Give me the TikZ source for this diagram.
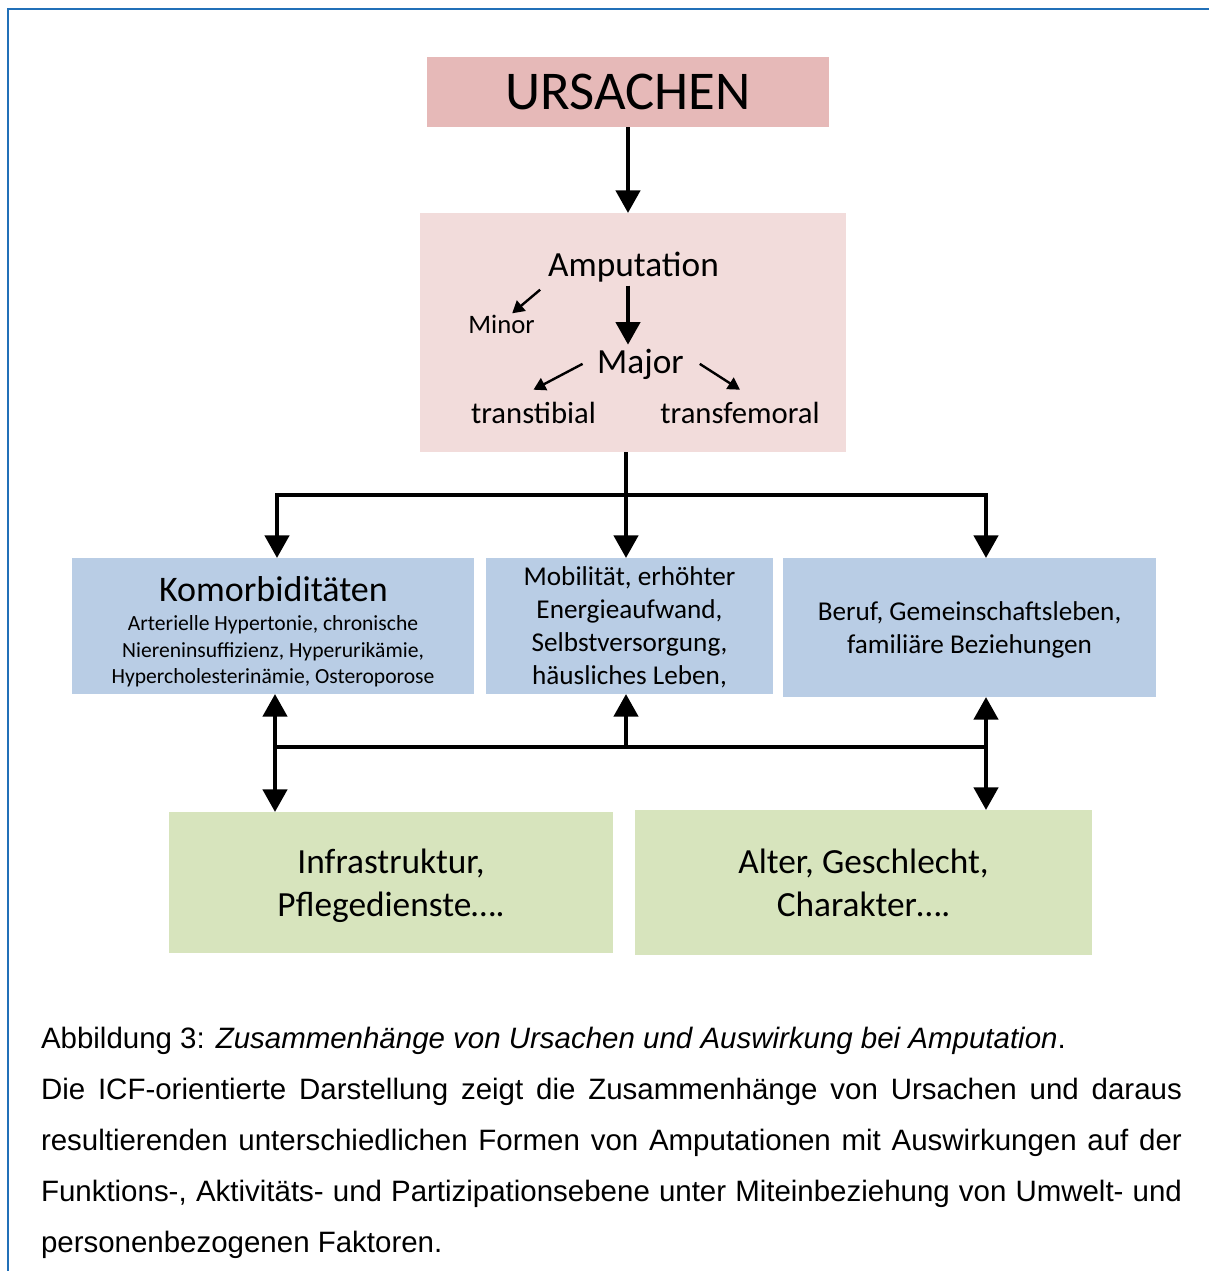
\documentclass[tikz,border=0pt]{standalone}
\usepackage{fontspec}
\setmainfont{Carlito}
\newfontfamily\capfont{Liberation Sans}
\usetikzlibrary{arrows.meta}
\definecolor{causered}{HTML}{E6B9B8}
\definecolor{amppink}{HTML}{F2DCDB}
\definecolor{effectblue}{HTML}{B9CDE5}
\definecolor{contextgreen}{HTML}{D7E4BD}
\definecolor{frameblue}{HTML}{2170B8}
\begin{document}
\begin{tikzpicture}
  [x=0.75pt,y=-0.75pt,every node/.style={inner sep=0pt,outer sep=0pt}]
  \tikzstyle{cause} = [fill=causered,minimum width=301.5pt,minimum height=52.5pt]
  \tikzstyle{ampbox} = [fill=amppink,minimum width=319.5pt,minimum height=179.25pt]
  \tikzstyle{effect} = [fill=effectblue,align=center,text depth=0pt,font=\fontsize{20.4}{24.75}\selectfont]
  \tikzstyle{context} = [fill=contextgreen,align=center,text depth=0pt,font=\fontsize{26.5}{32.25}\selectfont]
  \tikzstyle{word} = [inner sep=3pt,anchor=base]
  \tikzstyle{bigline} = [line width=3.4pt]
  \tikzstyle{bigarrow} = [bigline,-{Triangle[length=17pt,width=18pt]}]
  \tikzstyle{bigboth} = [bigline,{Triangle[length=17pt,width=18pt]}-{Triangle[length=17pt,width=18pt]}]
  \tikzstyle{smallarrow} = [line width=1.8pt,-{Triangle[length=9pt,width=10pt]}]
  \useasboundingbox (0,0) rectangle (1209,1271);
  \draw[frameblue,line width=1.2pt] (8,1271) -- (8,9) -- (1209,9);

  \node[cause,font=\fontsize{41}{48}\selectfont] (ursachen) at (628,92) {URSACHEN};
  \node[ampbox] (amp) at (633,332.5) {};
  \node[word,font=\fontsize{26.5}{30}\selectfont] (amputation) at (633.5,276) {Amputation};
  \node[word,font=\fontsize{20}{24}\selectfont] (minor) at (501.5,333) {Minor};
  \node[word,font=\fontsize{26.5}{30}\selectfont] (major) at (640.5,373) {Major};
  \node[word,font=\fontsize{23}{27}\selectfont] (tibial) at (533.5,423) {transtibial};
  \node[word,font=\fontsize{23}{27}\selectfont] (femoral) at (740,423) {transfemoral};

  \node[effect,minimum width=301.5pt,minimum height=102pt] (kom) at (273,626) {};
  \node[font=\fontsize{27}{30}\selectfont] (komtitle) at (273.5,589) {Komorbiditäten};
  \node[align=center,font=\fontsize{16.2}{19.9}\selectfont] (komtext) at (273,651.5)
    {Arterielle Hypertonie, chronische\\Niereninsuffizienz, Hyperurikämie,\\Hypercholesterinämie, Osteroporose};
  \node[effect,minimum width=215.25pt,minimum height=102pt] (mob) at (629.5,626)
    {Mobilität, erhöhter\\Energieaufwand,\\Selbstversorgung,\\häusliches Leben,};
  \node[effect,minimum width=279.75pt,minimum height=104.25pt] (ber) at (969.5,627.5)
    {Beruf, Gemeinschaftsleben,\\familiäre Beziehungen};
  \node[context,minimum width=333pt,minimum height=105.75pt] (infra) at (391,882.5)
    {Infrastruktur,\\Pflegedienste….};
  \node[context,minimum width=342.75pt,minimum height=108.75pt] (alter) at (863.5,882.5)
    {Alter, Geschlecht,\\Charakter….};

  \draw[bigarrow] (ursachen) -- (ursachen |- amp.north);
  \draw[bigarrow] (amputation.south -| ursachen) -- (major.north -| ursachen);
  \draw[smallarrow] ([shift={(-3pt,-3pt)}]amputation.south west) -- ([shift={(8pt,-2pt)}]minor.north);
  \draw[smallarrow] ([xshift=-8pt]major.west) -- ([yshift=6pt]tibial.north);
  \draw[smallarrow] ([xshift=9pt]major.east) -- ([yshift=6pt]femoral.north);

  \coordinate (t1) at (277,495);
  \coordinate (t2) at (626,495);
  \coordinate (t3) at (986,495);
  \draw[bigline] (amp.south -| t2) -- (t2);
  \draw[bigarrow] (t2) -- (t2 |- mob.north);
  \foreach \t/\b in {t1/kom,t3/ber}
    \draw[bigarrow] (t2) -- (\t) -- (\t |- \b.north);

  \coordinate (b1) at (275,747);
  \coordinate (b2) at (626,747);
  \coordinate (b3) at (986,747);
  \draw[bigline] (b1) -- (b3);
  \draw[bigarrow] (b2) -- (b2 |- mob.south);
  \foreach \b/\u/\d in {b1/kom/infra,b3/ber/alter}
    \draw[bigboth] (\b |- \u.south) -- (\b |- \d.north);

  \node[anchor=north west,text width=855.75pt,align=justify,font=\capfont\fontsize{22.1}{38.3}\selectfont] (caption) at (41,1027)
    {Abbildung 3: \textit{Zusammenhänge von Ursachen und Auswirkung bei Amputation}.\\Die ICF-orientierte Darstellung zeigt die Zusammenhänge von Ursachen und daraus\linebreak resultierenden unterschiedlichen Formen von Amputationen mit Auswirkungen auf der\linebreak Funktions-, Aktivitäts- und Partizipationsebene unter Miteinbeziehung von Umwelt- und\linebreak personenbezogenen Faktoren.};
\end{tikzpicture}
\end{document}
